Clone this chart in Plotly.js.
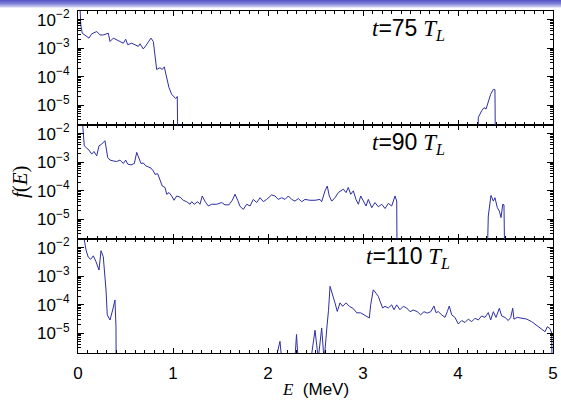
<!DOCTYPE html>
<html>
<head>
<meta charset="utf-8">
<script src="https://cdn.plot.ly/plotly-3.0.1.min.js"></script>
<style>
  html, body { margin: 0; padding: 0; background: #fff; }
  #wrap { position: relative; width: 561px; height: 402px; overflow: hidden; }
  #chart { width: 561px; height: 402px; }
  #band {
    position: absolute; left: 0; top: 0; width: 561px; height: 8px;
    background: linear-gradient(to bottom, #5252c4 0%, #7f7fd8 45%, #c9c9f0 85%, #ffffff 100%);
    pointer-events: none;
  }
</style>
</head>
<body>
<div id="wrap"><div id="chart"></div><div id="band"></div></div>
<script>
// Electron energy spectra f(E) at three times; values stored as log10 f.
// Points at -8 or -5.9 lie below the plotted range (the spectrum drops to zero there).

const energy75 = [0.02,0.03,0.045,0.074,0.116,0.144,0.197,0.232,0.266,0.319,0.337,0.372,0.407,0.442,0.477,0.502,0.523,0.565,0.6,0.635,0.653,0.687,0.713,0.74,0.768,0.793,0.811,0.828,0.863,0.887,0.908,0.934,0.958,0.986,1.011,1.028,1.045,1.056,
  4.197,4.214,4.249,4.274,4.295,4.319,4.344,4.372,4.389,4.397];
const logF75 = [-1.5,-2.2,-2.48,-2.54,-2.65,-2.5,-2.42,-2.54,-2.54,-2.48,-2.77,-2.65,-2.71,-2.77,-2.83,-2.69,-2.88,-2.83,-2.88,-2.94,-2.85,-3.03,-2.92,-2.77,-2.65,-2.77,-3.29,-3.75,-3.69,-3.75,-3.66,-4.04,-4.39,-4.62,-4.70,-4.77,-4.70,-8,
  -8,-5.43,-5.2,-5.09,-5.14,-4.86,-4.62,-4.45,-4.46,-8];

const energy90 = [0.045,0.066,0.092,0.116,0.144,0.168,0.197,0.221,0.249,0.284,
  0.313,0.337,0.372,0.407,0.442,0.477,0.502,0.523,0.558,0.593,
  0.618,0.642,0.663,0.687,0.713,0.74,0.768,0.793,0.811,0.839,
  0.863,0.887,0.916,0.934,0.958,0.986,1.011,1.039,1.074,1.108,
  1.144,1.179,1.197,1.224,1.26,1.284,1.308,1.344,1.372,1.407,
  1.46,1.513,1.547,1.589,1.624,1.653,1.681,1.705,1.74,1.776,
  1.811,1.845,1.881,1.916,1.951,1.986,2.039,2.074,2.108,2.144,
  2.179,2.214,2.249,2.284,2.319,2.355,2.389,2.442,2.495,2.547,
  2.565,2.6,2.624,2.645,2.671,2.705,2.74,2.765,2.793,2.821,
  2.845,2.871,2.898,2.926,2.951,2.976,3.003,3.032,3.056,3.092,
  3.126,3.161,3.197,3.232,3.266,3.302,3.337,3.355,3.361,
  4.295,4.319,4.347,4.372,4.389,4.414,4.435,4.453,4.471,4.484,4.498];
const logF90 = [-1.5,-2.43,-2.51,-2.58,-2.72,-2.63,-2.78,-2.43,-2.37,-2.25,
  -2.84,-2.93,-2.96,-2.98,-2.93,-3.05,-2.93,-3.07,-3.10,-3.05,
  -2.66,-2.90,-3.05,-3.03,-3.13,-3.17,-3.21,-3.31,-3.43,-3.41,
  -3.66,-3.84,-3.89,-4.13,-4.07,-4.19,-4.34,-4.19,-4.23,-4.34,
  -4.39,-4.48,-4.39,-4.48,-4.39,-4.48,-4.19,-4.42,-4.54,-4.48,
  -4.48,-4.42,-4.5,-4.5,-4.34,-4.13,-4.34,-4.55,-4.66,-4.48,
  -4.54,-4.31,-4.42,-4.25,-4.39,-4.31,-4.15,-4.19,-4.31,-4.25,
  -4.31,-4.19,-4.31,-4.37,-4.28,-4.39,-4.31,-4.34,-4.34,-4.31,
  -4.39,-4.01,-3.84,-4.19,-4.37,-4.25,-4.07,-4.01,-3.95,-4.07,
  -3.89,-4.13,-4.01,-4.31,-4.48,-4.19,-4.39,-4.54,-4.31,-4.6,
  -4.42,-4.57,-4.48,-4.63,-4.45,-4.54,-4.19,-4.37,-8,
  -8,-4.89,-4.17,-4.37,-4.25,-4.6,-4.72,-4.95,-4.48,-4.5,-8];

const energy110 = [0.06,0.084,0.108,0.134,0.161,0.189,0.221,0.242,0.266,0.295,0.308,0.337,0.365,0.389,0.4,0.403,
  2.084,2.126,2.144,
  2.284,2.3,2.316,
  2.453,2.495,2.529,2.565,2.589,2.6,2.621,2.637,2.653,
  2.681,2.705,2.729,2.758,2.786,2.821,2.856,2.898,2.934,2.976,
  3.021,3.066,3.081,3.108,3.137,3.161,3.179,3.207,3.232,3.266,
  3.302,3.326,3.355,3.389,3.424,3.46,3.495,3.529,3.572,3.607,
  3.642,3.677,3.713,3.747,3.768,3.793,3.828,3.863,3.887,3.908,
  3.934,3.968,4.003,4.039,4.074,4.108,4.144,4.179,4.214,4.249,
  4.284,4.319,4.344,4.372,4.4,4.435,4.46,4.495,4.529,4.555,
  4.576,4.589,4.624,4.671,4.723,4.776,4.828,4.881,4.916,4.94,
  4.968,4.986,4.997];
const logF110 = [-1.6,-2.08,-2.34,-2.41,-2.29,-2.49,-2.79,-2.11,-2.32,-3.49,-4.36,-4.54,-4.19,-3.84,-4.78,-8,
  -5.9,-5.29,-5.9,
  -5.9,-5.05,-5.9,
  -5.9,-4.9,-5.9,-4.82,-5.9,-5.6,-4.75,-4.2,-3.36,
  -3.65,-3.94,-4.24,-3.94,-4.06,-3.94,-4.06,-4.14,-4.29,-4.29,
  -4.38,-4.47,-4.01,-3.48,-3.6,-3.71,-3.88,-4.12,-4.06,-4.12,
  -4.01,-4.18,-4.01,-4.18,-4.06,-4.12,-4.25,-4.19,-4.25,-4.36,
  -4.25,-4.3,-4.25,-4.05,-4.28,-4.25,-4.36,-4.45,-4.25,-4.05,
  -4.36,-4.45,-4.68,-4.56,-4.63,-4.51,-4.6,-4.48,-4.54,-4.4,
  -4.45,-4.28,-4.54,-4.25,-4.45,-4.13,-4.4,-4.45,-4.56,-4.45,
  -4.13,-4.51,-4.45,-4.48,-4.51,-4.6,-4.72,-4.84,-4.95,-4.78,
  -4.84,-5.0,-8];

const panelTimes = ['75', '90', '110'];
const decadeTicks = [1e-5, 1e-4, 1e-3, 1e-2];
const decadeLabels = ['10<sup>\u22125</sup>', '10<sup>\u22124</sup>', '10<sup>\u22123</sup>', '10<sup>\u22122</sup>'];
const energyTicks = [0, 1, 2, 3, 4, 5];

const lineColor = '#2e2ea4';
const sans = 'Liberation Sans, Arial, sans-serif';
const serif = 'Liberation Serif, Times New Roman, serif';

// minor log ticks 2..9 within each decade
const minorLog = [];
for (let d = -6; d <= -2; d++) {
  for (let m = 2; m <= 9; m++) minorLog.push(m * Math.pow(10, d));
}

const toF = arr => arr.map(v => Math.pow(10, v));

const traces = [
  { x: energy75, y: toF(logF75), xaxis: 'x3', yaxis: 'y3' },
  { x: energy90, y: toF(logF90), xaxis: 'x2', yaxis: 'y2' },
  { x: energy110, y: toF(logF110), xaxis: 'x', yaxis: 'y' }
].map(t => Object.assign(t, {
  type: 'scatter', mode: 'lines', showlegend: false, hoverinfo: 'skip',
  line: { color: lineColor, width: 1 }
}));

function xAxis(anchor, showLabels) {
  return {
    anchor: anchor, range: [0, 5], tickmode: 'array', tickvals: energyTicks,
    showticklabels: showLabels, ticks: 'inside', ticklen: 5, tickwidth: 1, tickcolor: '#000',
    minor: { ticks: 'inside', ticklen: 3, dtick: 0.1, tick0: 0, tickcolor: '#000', tickwidth: 1 },
    showline: true, linecolor: '#000', linewidth: 1, mirror: 'ticks',
    showgrid: false, zeroline: false, fixedrange: true,
    tickfont: { family: sans, size: 17, color: '#000' }, ticklabelstandoff: 5
  };
}
function yAxis(domain, anchor) {
  return {
    anchor: anchor, domain: domain, type: 'log',
    range: [Math.log10(2e-6), Math.log10(2e-2)],
    tickmode: 'array', tickvals: decadeTicks, ticktext: decadeLabels,
    ticks: 'inside', ticklen: 6, tickwidth: 1, tickcolor: '#000',
    minor: { ticks: 'inside', ticklen: 3, tickmode: 'array', tickvals: minorLog, tickcolor: '#000', tickwidth: 1 },
    showline: true, linecolor: '#000', linewidth: 1, mirror: 'ticks',
    showgrid: false, zeroline: false, fixedrange: true,
    tickfont: { family: sans, size: 17, color: '#000' }, ticklabelstandoff: 4
  };
}

function timeLabel(t) {
  return '<span style="font-family:' + serif + '"><i>t</i></span>=' + t +
    '<span style="font-family:' + serif + '"> <i>T</i><sub><i>L</i></sub></span>';
}

const panelY = [0.945, 0.612, 0.278];
const annotations = panelTimes.map((t, i) => ({
  xref: 'paper', yref: 'paper', x: 0.695, y: panelY[i], xanchor: 'center', yanchor: 'middle',
  text: timeLabel(t), showarrow: false, font: { family: sans, size: 23, color: '#000' }
}));
annotations.push({
  xref: 'paper', yref: 'paper', x: -0.122, y: 0.5, xanchor: 'center', yanchor: 'middle',
  textangle: -90, showarrow: false, text: '<i>f</i>(<i>E</i>)',
  font: { family: serif, size: 21, color: '#000' }
});
annotations.push({
  xref: 'paper', yref: 'paper', x: 0.5, y: -0.108, xanchor: 'center', yanchor: 'middle',
  showarrow: false,
  text: '<span style="font-family:' + serif + '"><i>E</i></span>  (MeV)',
  font: { family: sans, size: 17, color: '#000' }
});

const layout = {
  width: 561, height: 402,
  margin: { l: 78, r: 8, t: 11, b: 49, pad: 0 },
  paper_bgcolor: '#fff', plot_bgcolor: '#fff',
  xaxis: xAxis('y', true),
  xaxis2: xAxis('y2', false),
  xaxis3: xAxis('y3', false),
  yaxis: yAxis([0, 1 / 3], 'x'),
  yaxis2: yAxis([1 / 3, 2 / 3], 'x2'),
  yaxis3: yAxis([2 / 3, 1], 'x3'),
  annotations: annotations,
  showlegend: false
};

Plotly.newPlot('chart', traces, layout, { displayModeBar: false, staticPlot: true });
</script>
</body>
</html>
